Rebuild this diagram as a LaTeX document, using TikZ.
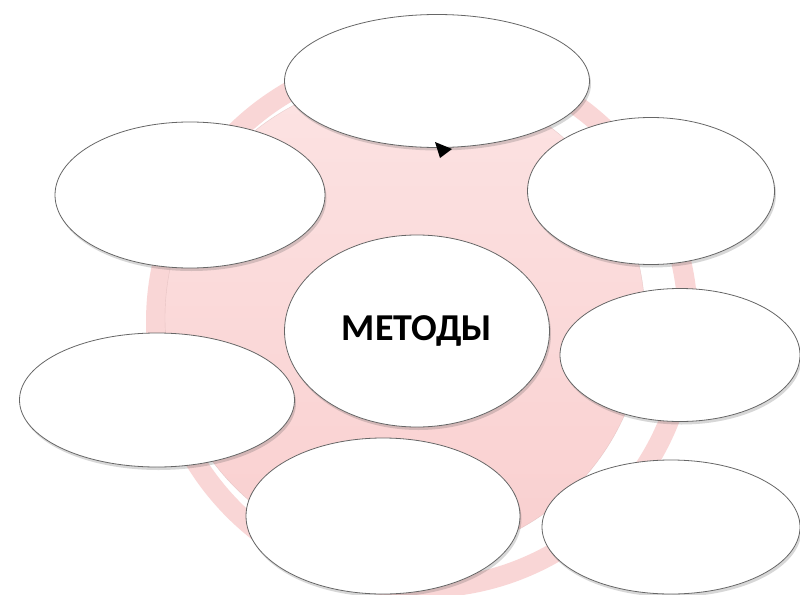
\documentclass[tikz,border=0pt]{standalone}
\usepackage{fontspec}
\setmainfont{Carlito}
\usetikzlibrary{shapes.geometric,shadows}
\definecolor{discTop}{HTML}{FCE3E3}
\definecolor{discBot}{HTML}{F9CFCF}
\definecolor{ringPink}{HTML}{F9D6D6}
\definecolor{edgeGray}{HTML}{666666}
\tikzset{
  bubble/.style={ellipse, draw=edgeGray, line width=0.8pt, fill=white, inner sep=0pt,
    drop shadow={shadow xshift=1.5pt, shadow yshift=-3pt, opacity=0.22, fill=black!70}},
  label/.style={font=\bfseries\fontsize{38}{40}\selectfont, text=black}
}
\begin{document}
\begin{tikzpicture}[x=1pt,y=-1pt]
\useasboundingbox[fill=white] (0,0) rectangle (800,594);
% ring behind
\draw[line width=20pt, draw=ringPink] (422,322) circle [radius=266];
% disc
\shade[top color=discTop, bottom color=discBot] (405,318) circle [radius=240];
\draw[draw=discBot!85!black, line width=0.4pt, opacity=0.5] (405,318) circle [radius=240];
% bubbles
\node[bubble, minimum width=305pt, minimum height=133pt] (top) at (437,81) {};
\node[bubble, minimum width=270pt, minimum height=146pt] (ul) at (190,195) {};
\node[bubble, minimum width=247pt, minimum height=147pt] (ur) at (651,191) {};
\node[bubble, minimum width=240pt, minimum height=133pt] (rm) at (680,355) {};
\node[bubble, minimum width=275pt, minimum height=134pt] (lm) at (157,400) {};
\node[bubble, minimum width=274pt, minimum height=156pt] (bc) at (383,516) {};
\node[bubble, minimum width=258pt, minimum height=134pt] (br) at (671,527) {};
\node[bubble, minimum width=265pt, minimum height=192pt] (mid) at (417,331) {};
\node[label] (txt) at (417,331) {МЕТОДЫ};
% arrow tip in front
\fill[black] (435,142) -- (452,149) -- (440,158) -- cycle;
\end{tikzpicture}
\end{document}
